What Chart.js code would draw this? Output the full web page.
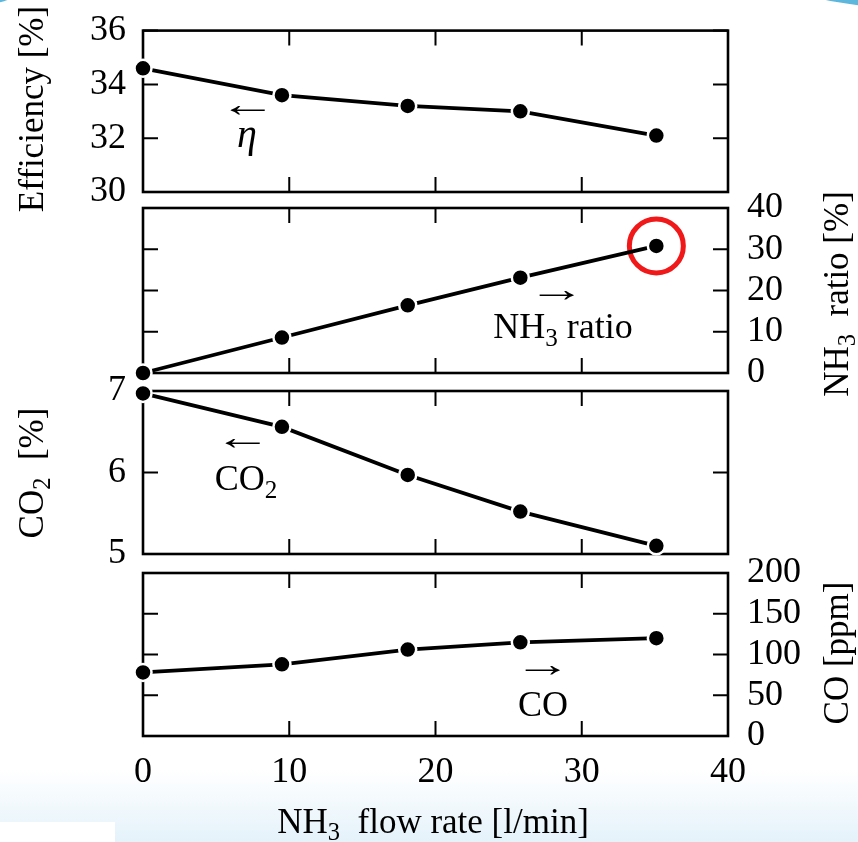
<!DOCTYPE html>
<html>
<head>
<meta charset="utf-8">
<script src="https://cdn.jsdelivr.net/npm/chart.js@4.4.1/dist/chart.umd.min.js"></script>
<style>
  html, body { margin: 0; padding: 0; }
  body {
    width: 858px; height: 842px; position: relative; overflow: hidden;
    background: linear-gradient(to bottom, #fff 0, #fff 770px, #e4f2fa 842px);
  }
  canvas { position: absolute; left: 0; top: 0; }
  .lbl {
    position: absolute; font-family: "Liberation Serif", "Times New Roman", serif;
    color: #000; line-height: 1; white-space: nowrap; font-size: 35px;
    transform: translate(-50%, -50%);
  }
  .rot { transform: translate(-50%, -50%) rotate(-90deg); }
  .arrow { transform: translate(-50%, -50%) scaleX(1.6); font-size: 36px; }
  sub { font-size: 0.7em; vertical-align: -0.3em; line-height: 0; }
  .deco { position: absolute; background: #5db7dd; border-radius: 50%; }
</style>
</head>
<body>
<div class="deco" style="left:790px;top:-22px;width:150px;height:28px;transform:rotate(6deg)"></div>
<div class="deco" style="left:-40px;top:-14px;width:62px;height:18px;transform:rotate(-10deg)"></div>
<div style="position:absolute;left:0;top:822px;width:115px;height:20px;background:#fff"></div>

<canvas id="effChart" width="858" height="842"></canvas>
<canvas id="ratioChart" width="858" height="842"></canvas>
<canvas id="co2Chart" width="858" height="842"></canvas>
<canvas id="coChart" width="858" height="842"></canvas>

<div class="lbl rot" style="left:31px;top:109px">Efficiency [%]</div>
<div class="lbl rot" style="left:31px;top:473px">CO<sub>2</sub>&nbsp; [%]</div>
<div class="lbl rot" style="left:836px;top:294px">NH<sub>3</sub>&nbsp; ratio [%]</div>
<div class="lbl rot" style="left:836px;top:653px">CO [ppm]</div>
<div class="lbl" style="left:433px;top:821px">NH<sub>3</sub>&nbsp; flow rate [l/min]</div>

<div class="lbl arrow" style="left:248px;top:104px">&larr;</div>
<div class="lbl" style="left:247px;top:134px;font-style:italic;font-size:40px">&eta;</div>
<div class="lbl arrow" style="left:557px;top:289px">&rarr;</div>
<div class="lbl" style="left:563px;top:326px;font-size:36px">NH<sub>3</sub> ratio</div>
<div class="lbl arrow" style="left:243px;top:437px">&larr;</div>
<div class="lbl" style="left:246px;top:478px;font-size:36px">CO<sub>2</sub></div>
<div class="lbl arrow" style="left:543px;top:664px">&rarr;</div>
<div class="lbl" style="left:543px;top:704px;font-size:36px">CO</div>

<script>
// data
const flowRate = [0, 9.5, 18.1, 25.8, 35.1];
const efficiency = [34.6, 33.6, 33.2, 33.0, 32.1];
const nh3Ratio = [0, 8.6, 16.4, 23.1, 30.8];
const co2 = [6.97, 6.56, 5.97, 5.52, 5.1];
const co = [78, 88, 106, 115, 120];
const circled = 4; // point marked with the red ring in the NH3 ratio panel

const serif = "'Liberation Serif', 'Times New Roman', serif";

// box around the plot + inward ticks on all four sides
const framePlugin = {
  id: 'frame',
  beforeDatasetsDraw(chart) {
    const { ctx, chartArea: a, scales } = chart;
    ctx.save();
    ctx.strokeStyle = '#000';
    ctx.lineWidth = 2;
    ctx.beginPath();
    scales.x.ticks.forEach(t => {
      const px = scales.x.getPixelForValue(t.value);
      ctx.moveTo(px, a.top); ctx.lineTo(px, a.top + 15);
      ctx.moveTo(px, a.bottom); ctx.lineTo(px, a.bottom - 15);
    });
    scales.y.ticks.forEach(t => {
      const py = scales.y.getPixelForValue(t.value);
      ctx.moveTo(a.left, py); ctx.lineTo(a.left + 15, py);
      ctx.moveTo(a.right, py); ctx.lineTo(a.right - 15, py);
    });
    ctx.stroke();
    ctx.lineWidth = 2.6;
    ctx.strokeRect(a.left, a.top, a.right - a.left, a.bottom - a.top);
    ctx.restore();
  }
};

function makePanel(id, values, yMin, yMax, yStep, side, top, bottom, showX, extra) {
  const datasets = [{
    data: flowRate.map((x, i) => ({ x: x, y: values[i] })),
    borderColor: '#000',
    borderWidth: 3.8,
    pointRadius: 8.5,
    pointBackgroundColor: '#000',
    pointBorderColor: '#fff',
    pointBorderWidth: 2.5,
    clip: false
  }];
  if (extra) datasets.push(extra);

  return new Chart(document.getElementById(id), {
    type: 'line',
    data: { datasets: datasets },
    options: {
      responsive: false,
      animation: false,
      layout: {
        padding: {
          left: side === 'left' ? 0 : 143,
          right: side === 'right' ? 0 : 130,
          top: top,
          bottom: showX ? 0 : 842 - bottom
        }
      },
      scales: {
        x: {
          type: 'linear',
          min: 0, max: 40,
          display: showX,
          grid: { display: false },
          border: { display: false },
          ticks: { stepSize: 10, autoSkip: false, color: '#000', padding: 7, font: { family: serif, size: 36 } },
          afterFit: s => { if (showX) s.height = 842 - bottom; }
        },
        y: {
          position: side,
          min: yMin, max: yMax,
          grid: { display: false },
          border: { display: false },
          ticks: {
            stepSize: yStep, autoSkip: false, color: '#000',
            padding: side === 'left' ? 9 : 11,
            font: { family: serif, size: 36 }
          },
          afterFit: s => { s.width = side === 'left' ? 143 : 130; }
        }
      },
      plugins: { legend: { display: false }, tooltip: { enabled: false } }
    },
    plugins: [framePlugin]
  });
}

makePanel('effChart', efficiency, 30, 36, 2, 'left', 26, 192, false);

makePanel('ratioChart', nh3Ratio, 0, 40, 10, 'right', 208, 373, false, {
  data: [{ x: flowRate[circled], y: nh3Ratio[circled] }],
  showLine: false,
  pointRadius: 27,
  pointBackgroundColor: 'rgba(0,0,0,0)',
  pointBorderColor: '#f01818',
  pointBorderWidth: 5,
  clip: false
});

makePanel('co2Chart', co2, 5, 7, 1, 'left', 391, 554, false);

makePanel('coChart', co, 0, 200, 50, 'right', 573, 736, true);
</script>
</body>
</html>
